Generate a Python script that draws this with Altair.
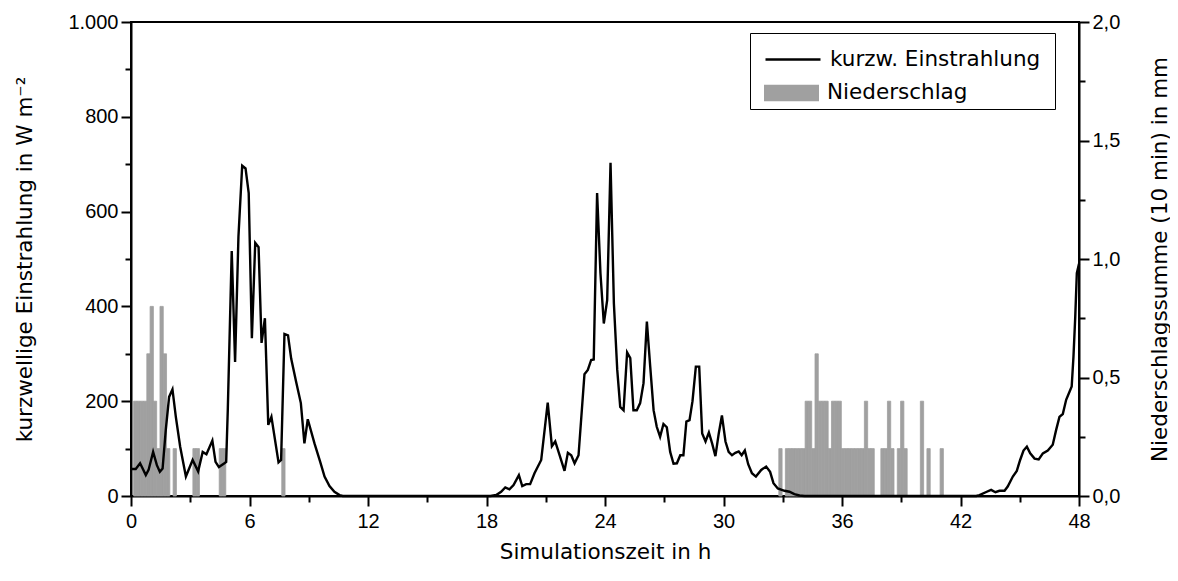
import altair as alt
import pandas as pd

# --- kurzwellige Einstrahlung (W m-2) over simulation time (h) ---
zeit_h = [0.0, 0.24, 0.46, 0.75, 0.89, 1.12, 1.31, 1.46, 1.6, 1.76, 1.93, 2.1, 2.27, 2.49, 2.78,
          3.12, 3.4, 3.63, 3.82, 4.12, 4.28, 4.45, 4.73, 4.82, 4.9, 5.1, 5.27, 5.44, 5.63, 5.8,
          5.96, 6.12, 6.29, 6.46, 6.61, 6.78, 6.95, 7.11, 7.47, 7.6, 7.77, 7.95, 8.11, 8.36, 8.6,
          8.78, 8.95, 9.29, 9.58, 9.8, 10.05, 10.3, 10.56, 10.72, 18.2, 18.49, 18.74, 18.95,
          19.16, 19.37, 19.64, 19.81, 20.01, 20.21, 20.43, 20.77, 21.1, 21.31, 21.48, 21.7, 21.95,
          22.12, 22.29, 22.46, 22.66, 22.96, 23.13, 23.3, 23.43, 23.6, 23.77, 23.94, 24.11, 24.28,
          24.45, 24.62, 24.77, 24.94, 25.12, 25.28, 25.44, 25.61, 25.78, 25.95, 26.12, 26.29,
          26.46, 26.62, 26.79, 26.96, 27.13, 27.3, 27.47, 27.64, 27.81, 27.97, 28.12, 28.28, 28.43,
          28.6, 28.77, 28.92, 29.09, 29.26, 29.43, 29.59, 29.76, 29.92, 30.1, 30.26, 30.43, 30.6,
          30.77, 30.92, 31.08, 31.25, 31.44, 31.64, 31.91, 32.16, 32.36, 32.53, 32.75, 33.09,
          33.34, 33.59, 33.85, 34.1, 42.8, 42.96, 43.33, 43.55, 43.77, 43.97, 44.23, 44.39, 44.65,
          44.85, 45.02, 45.19, 45.36, 45.53, 45.75, 45.96, 46.17, 46.42, 46.67, 46.84, 47.01,
          47.18, 47.35, 47.52, 47.63, 47.72, 47.81, 47.89, 48.0]
einstrahlung = [57, 57, 69, 44, 55, 93, 65, 51, 58, 139, 209, 225, 167, 104, 41,
                76, 52, 93, 88, 117, 72, 61, 69, 72, 181, 517, 283, 547, 697, 691,
                639, 333, 534, 525, 323, 375, 150, 167, 71, 76, 342, 339, 290, 241, 196,
                111, 162, 111, 72, 41, 21, 9, 2, 0, 0, 2, 9, 18,
                14, 23, 44, 21, 25, 25, 48, 76, 197, 105, 115, 86, 53,
                91, 86, 69, 86, 257, 266, 287, 288, 639, 470, 364, 413, 703,
                406, 266, 188, 181, 303, 291, 181, 181, 196, 238, 368, 273,
                181, 146, 125, 152, 145, 93, 68, 69, 86, 86, 157, 160, 200,
                273, 273, 132, 115, 134, 110, 84, 132, 170, 115, 93, 86, 91,
                94, 86, 96, 67, 48, 41, 55, 62, 51, 27, 16, 11,
                9, 4, 1, 0, 0, 2, 9, 13, 8, 11, 11, 20, 41,
                53, 76, 96, 104, 90, 79, 77, 90, 96, 108, 139, 167,
                173, 203, 220, 231, 294, 378, 470, 490]

# --- Niederschlag: 10-min sums (mm), start of each interval (h) ---
ns_beginn = [0.133, 0.3, 0.467, 0.633, 0.8, 0.967, 1.133, 1.3, 1.467, 1.633, 1.8, 2.133,
             3.133, 3.3, 4.467, 4.633, 7.633,
             32.8, 33.133, 33.3, 33.467, 33.633, 33.8, 33.967, 34.133, 34.3, 34.467, 34.633,
             34.8, 34.967, 35.133, 35.3, 35.467, 35.633, 35.8, 35.967, 36.133, 36.3, 36.467,
             36.633, 36.8, 36.967, 37.133, 37.3, 37.467, 37.967, 38.133, 38.3, 38.467, 38.8,
             38.967, 39.133, 39.967, 40.3, 40.967]
ns_mm = [0.4, 0.4, 0.4, 0.4, 0.6, 0.8, 0.4, 0.2, 0.8, 0.6, 0.2, 0.2,
         0.2, 0.2, 0.2, 0.2, 0.2,
         0.2, 0.2, 0.2, 0.2, 0.2, 0.2, 0.2, 0.4, 0.4, 0.2, 0.6,
         0.4, 0.4, 0.4, 0.2, 0.4, 0.4, 0.4, 0.2, 0.2, 0.2, 0.2,
         0.2, 0.2, 0.2, 0.4, 0.2, 0.2, 0.2, 0.2, 0.4, 0.2, 0.2,
         0.4, 0.2, 0.4, 0.2, 0.2]

x_ticks = list(range(0, 49, 3))
left_ticks = list(range(0, 1001, 100))
right_ticks = [0, 0.25, 0.5, 0.75, 1.0, 1.25, 1.5, 1.75, 2.0]

FONT = "Liberation Sans"
FS = 20
TFONT = "DejaVu Sans"
TFS = 21.5
BAR_GREY = "#a0a0a0"

line_df = pd.DataFrame({"t": zeit_h, "E": einstrahlung})
bar_df = pd.DataFrame({"t0": ns_beginn, "N": ns_mm})

common_axis = dict(
    domainColor="black", domainWidth=2, tickColor="black", tickWidth=2,
    labelFont=FONT, labelFontSize=FS, labelColor="black",
    titleFont=TFONT, titleFontSize=TFS, titleColor="black", titleFontWeight="normal",
    grid=False,
)

x_scale = alt.Scale(domain=[0, 48], nice=False, zero=False)
x_axis = alt.Axis(
    values=x_ticks,
    labelExpr="datum.value % 6 == 0 ? datum.label : ''",
    tickSize={"condition": {"test": "datum.value % 6 == 0", "value": 10}, "value": 6},
    labelPadding=5, labelFlush=False,
    title="Simulationszeit in h", titleBaseline="middle", titleY=56,
    **common_axis,
)

bars = (
    alt.Chart(bar_df)
    .transform_calculate(t1="datum.t0 + 1/6", serie="'Niederschlag'")
    .mark_rect(stroke=BAR_GREY, strokeWidth=0.8)
    .encode(
        x=alt.X("t0:Q", scale=x_scale, axis=x_axis),
        x2="t1:Q",
        y=alt.Y(
            "N:Q",
            scale=alt.Scale(domain=[0, 2], nice=False),
            axis=alt.Axis(
                orient="right",
                values=right_ticks,
                labelExpr="datum.value % 0.5 == 0 ? replace(format(datum.value, '.1f'), '.', ',') : ''",
                tickSize={"condition": {"test": "datum.value % 0.5 == 0", "value": 10}, "value": 6},
                labelPadding=3, labelFlush=False,
                title="Niederschlagssumme (10 min) in mm",
                titleAngle=-90, titleX=81, titleY=237,
                titleAlign="center", titleBaseline="middle",
                **common_axis,
            ),
        ),
        y2=alt.datum(0),
        fill=alt.Fill(
            "serie:N",
            scale=alt.Scale(domain=["Niederschlag"], range=[BAR_GREY]),
            legend=alt.Legend(
                title=None, orient="none", legendX=619, legendY=46, padding=14,
                symbolType="M-1,-0.75H4V0.75H-1Z", symbolSize=484, symbolOpacity=1,
                symbolStrokeWidth=0,
                labelOffset=41, labelFont=TFONT, labelFontSize=TFS, labelColor="black",
                labelLimit=400,
            ),
        ),
    )
)

line = (
    alt.Chart(line_df)
    .transform_calculate(serie="'kurzw. Einstrahlung'")
    .mark_line(strokeWidth=2.4, strokeJoin="miter")
    .encode(
        x=alt.X("t:Q", scale=x_scale, axis=x_axis),
        y=alt.Y(
            "E:Q",
            scale=alt.Scale(domain=[0, 1000], nice=False),
            axis=alt.Axis(
                orient="left",
                values=left_ticks,
                labelExpr="datum.value % 200 == 0 ? (datum.value == 1000 ? '1.000' : datum.label) : ''",
                tickSize={"condition": {"test": "datum.value % 200 == 0", "value": 10}, "value": 6},
                labelPadding=3, labelFlush=False,
                title="kurzwellige Einstrahlung in W m\u207b\u00b2",
                titleAngle=-90, titleX=-106, titleY=237,
                titleAlign="center", titleBaseline="middle",
                **common_axis,
            ),
        ),
        stroke=alt.Stroke(
            "serie:N",
            scale=alt.Scale(domain=["kurzw. Einstrahlung"], range=["black"]),
            legend=alt.Legend(
                title=" ", titleOrient="bottom", titleFontSize=10, titlePadding=15,
                orient="none", legendX=619, legendY=11, padding=14,
                strokeColor="black",
                symbolType="M-1,0H4", symbolSize=484, symbolStrokeWidth=2.4,
                labelOffset=41, labelFont=TFONT, labelFontSize=TFS, labelColor="black",
                labelLimit=400,
            ),
        ),
    )
)

chart = (
    alt.layer(bars, line)
    .resolve_scale(y="independent")
    .properties(
        width=948, height=474,
        autosize=alt.AutoSizeParams(type="none"),
        padding={"left": 123, "top": 14, "right": 91, "bottom": 77},
        background="white",
    )
    .configure_view(stroke="black", strokeWidth=2)
)

chart.save("out.html", embed_options={"renderer": "svg", "actions": False})
